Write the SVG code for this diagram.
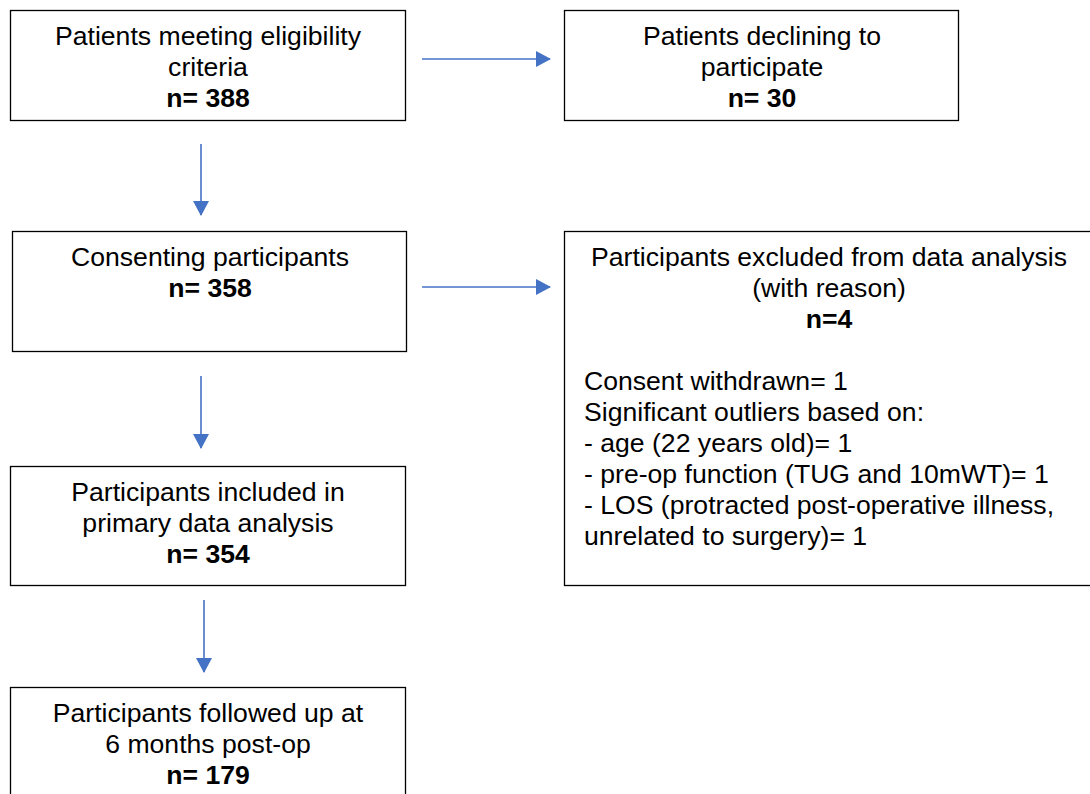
<svg xmlns="http://www.w3.org/2000/svg" width="1090" height="794" viewBox="0 0 1090 794">
<style>
.box{fill:#fff;stroke:#000;stroke-width:1.3}
text{font-family:"Liberation Sans",Arial,sans-serif;font-size:26.6px;fill:#000}
.c{text-anchor:middle}
.b{font-weight:bold}
.arr{stroke:#4472C4;stroke-width:1.6;fill:none;marker-end:url(#ah)}
</style>
<defs>
<marker id="ah" markerUnits="userSpaceOnUse" markerWidth="16" markerHeight="16" refX="14" refY="8" orient="auto">
<path d="M0,0 L15,8 L0,16 Z" fill="#4472C4"/>
</marker>
</defs>
<rect width="1090" height="794" fill="#fff"/>
<g id="connectors">
<line class="arr" x1="422" y1="59" x2="550" y2="59"/>
<line class="arr" x1="201" y1="144" x2="201" y2="215"/>
<line class="arr" x1="422" y1="287" x2="550" y2="287"/>
<line class="arr" x1="201" y1="376" x2="201" y2="448"/>
<line class="arr" x1="204" y1="600" x2="204" y2="672"/>
</g>
<g id="eligible">
<rect class="box" x="10.5" y="10.5" width="395" height="110"/>
<text class="c" x="208" y="45">Patients meeting eligibility</text>
<text class="c" x="208" y="76">criteria</text>
<text class="c b" x="208" y="107">n= 388</text>
</g>
<g id="declining">
<rect class="box" x="564.5" y="10.5" width="394" height="110"/>
<text class="c" x="762" y="45">Patients declining to</text>
<text class="c" x="762" y="76">participate</text>
<text class="c b" x="762" y="107">n= 30</text>
</g>
<g id="consenting">
<rect class="box" x="12.5" y="231.5" width="394" height="120"/>
<text class="c" x="210" y="266">Consenting participants</text>
<text class="c b" x="210" y="297">n= 358</text>
</g>
<g id="excluded">
<rect class="box" x="564.5" y="231.5" width="528" height="354"/>
<text class="c" x="829" y="266">Participants excluded from data analysis</text>
<text class="c" x="829" y="297">(with reason)</text>
<text class="c b" x="829" y="328">n=4</text>
<text x="584" y="390">Consent withdrawn= 1</text>
<text x="584" y="421">Significant outliers based on:</text>
<text x="584" y="452">- age (22 years old)= 1</text>
<text x="584" y="483">- pre-op function (TUG and 10mWT)= 1</text>
<text x="584" y="514">- LOS (protracted post-operative illness,</text>
<text x="584" y="545">unrelated to surgery)= 1</text>
</g>
<g id="included">
<rect class="box" x="10.5" y="466.5" width="395" height="119"/>
<text class="c" x="208" y="501">Participants included in</text>
<text class="c" x="208" y="532">primary data analysis</text>
<text class="c b" x="208" y="563">n= 354</text>
</g>
<g id="followed">
<rect class="box" x="10.5" y="687.5" width="395" height="120"/>
<text class="c" x="208" y="722">Participants followed up at</text>
<text class="c" x="208" y="753">6 months post-op</text>
<text class="c b" x="208" y="784">n= 179</text>
</g>
</svg>
